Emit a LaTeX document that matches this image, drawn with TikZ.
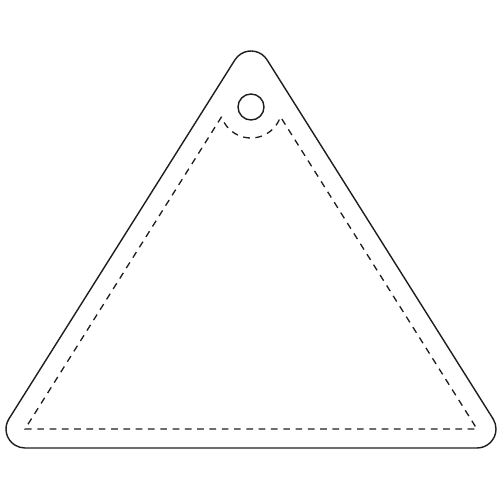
\documentclass[tikz,border=0pt]{standalone}
\usepackage{xcolor}
\usepackage{tikz}
\usetikzlibrary{calc}
\definecolor{edgegray}{RGB}{30, 30, 30}

\begin{document}
\begin{tikzpicture}[
    x=0.02cm, y=0.02cm,
    outline/.style={draw=edgegray, line width=0.8pt, line join=round},
    seam/.style={draw=edgegray, line width=0.75pt, dash pattern=on 3.8pt off 3.2pt},
    hole/.style={draw=edgegray, line width=0.8pt}
]
\useasboundingbox (0,0) rectangle (500,500);
\coordinate (L) at (25,71);
\coordinate (R) at (477,71);
\coordinate (T) at (251,430);
\coordinate (H) at (251,393);
% outer edge, rounded
\draw[outline] ($(L)+(0,-19)$) -- ($(R)+(0,-19)$)
    arc[start angle=-90, end angle=32.2, radius=19]
    -- ($(T)+(32.2:19)$)
    arc[start angle=32.2, end angle=147.8, radius=19]
    -- ($(L)+(147.8:19)$)
    arc[start angle=147.8, end angle=270, radius=19] -- cycle;
% hanging hole
\draw[hole] (H) circle[radius=13];
% dashed seam around the hole
\draw[seam] ($(H)+(198.35:31)$) -- (L) -- (R) -- ($(H)+(341.65:31)$)
    arc[start angle=341.65, end angle=198.35, radius=31];
\end{tikzpicture}
\end{document}
